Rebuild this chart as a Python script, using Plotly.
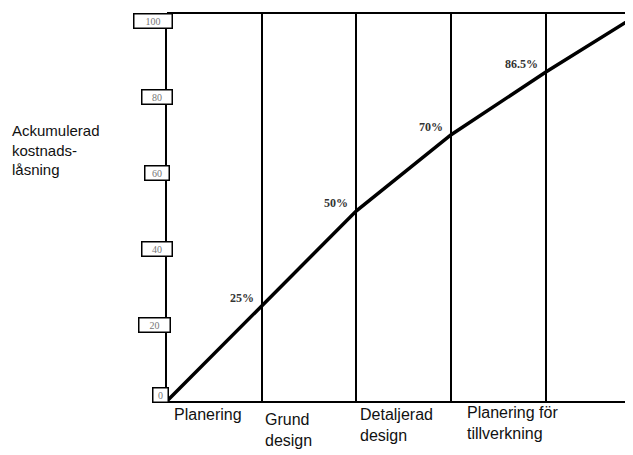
import plotly.graph_objects as go

phase_x = [0, 1, 2, 3, 4, 5]
lock_pct = [0, 25, 50, 70, 86.5, 102]
pct_labels = ["25%", "50%", "70%", "86.5%"]
phase_labels = ["Planering", "Grund<br>design", "Detaljerad<br>design", "Planering för<br>tillverkning"]
y_ticks = [0, 20, 40, 60, 80, 100]
y_title = "Ackumulerad<br>kostnads-<br>låsning"

# style-only per-label pixel offsets / box sizes
phase_dx = [5, 1, 2, 14]
phase_dy = [-3, -8, -3, -1]
tick_box_w = [12, 28, 27, 21, 27, 35]
tick_box_dx = [-7, -13, -10, -10, -10, -14]

fig = go.Figure()
fig.add_trace(go.Scatter(x=phase_x, y=lock_pct, mode="lines",
                         line=dict(color="black", width=3.5), cliponaxis=True,
                         showlegend=False, hoverinfo="skip"))

ann = []
for i, t in enumerate(pct_labels):
    ann.append(dict(x=phase_x[i + 1], y=lock_pct[i + 1], xref="x", yref="y", text="<b>" + t + "</b>",
                    showarrow=False, xanchor="right", yanchor="middle", xshift=-6, yshift=8,
                    font=dict(family="Liberation Serif", size=12, color="#333")))
for k, v in enumerate(y_ticks):
    ann.append(dict(x=0, y=v, xref="x", yref="y", text=str(v), showarrow=False,
                    xanchor="center", yanchor="middle", xshift=tick_box_dx[k],
                    yshift=6 if v == 0 else 0, width=tick_box_w[k], height=11,
                    font=dict(family="Liberation Serif", size=10, color="#777"),
                    bordercolor="black", borderwidth=1.5, borderpad=1, bgcolor="white"))
for i, t in enumerate(phase_labels):
    ann.append(dict(x=phase_x[i], y=0, xref="x", yref="y", text=t, showarrow=False,
                    xanchor="left", yanchor="top", align="left",
                    xshift=phase_dx[i], yshift=phase_dy[i],
                    font=dict(family="Liberation Sans", size=16, color="#111")))
ann.append(dict(x=-0.336, y=0.648, xref="paper", yref="paper", text=y_title, showarrow=False,
                xanchor="left", yanchor="middle", align="left",
                font=dict(family="Liberation Sans", size=15, color="#111")))

fig.update_layout(
    width=633, height=455,
    margin=dict(l=159, r=8, t=5, b=62),
    paper_bgcolor="white", plot_bgcolor="white",
    annotations=ann,
    xaxis=dict(range=[0, 4.92], tickvals=[1, 2, 3, 4], showticklabels=False,
               showgrid=True, gridcolor="black", gridwidth=2, zeroline=False,
               showline=True, linecolor="black", linewidth=2, mirror=False, ticks=""),
    yaxis=dict(range=[0, 102], showticklabels=False, showgrid=False, zeroline=False,
               showline=True, linecolor="black", linewidth=2, ticks=""),
    shapes=[dict(type="line", xref="paper", yref="paper", x0=0, x1=1, y0=1, y1=1,
                 line=dict(color="black", width=2))],
)
fig.write_html("out.html")
